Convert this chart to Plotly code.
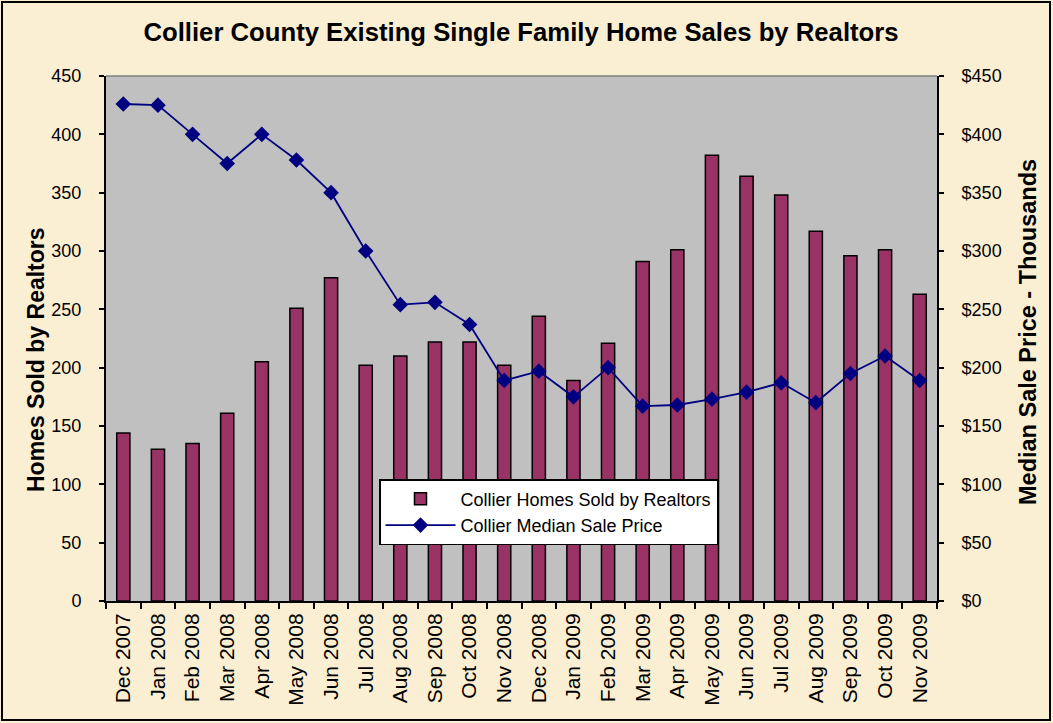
import plotly.graph_objects as go

months = ["Dec 2007", "Jan 2008", "Feb 2008", "Mar 2008", "Apr 2008", "May 2008", "Jun 2008",
          "Jul 2008", "Aug 2008", "Sep 2008", "Oct 2008", "Nov 2008", "Dec 2008", "Jan 2009",
          "Feb 2009", "Mar 2009", "Apr 2009", "May 2009", "Jun 2009", "Jul 2009", "Aug 2009",
          "Sep 2009", "Oct 2009", "Nov 2009"]
homes_sold = [144, 130, 135, 161, 205, 251, 277, 202, 210, 222, 222, 202, 244, 189,
              221, 291, 301, 382, 364, 348, 317, 296, 301, 263]
median_price = [426, 425, 400, 375, 400, 378, 350, 300, 254, 256, 237, 189, 197, 175,
                200, 167, 168, 173, 179, 187, 170, 195, 210, 189]
left_ticks = [0, 50, 100, 150, 200, 250, 300, 350, 400, 450]
right_tick_text = ["$" + str(v) for v in left_ticks]

W, H = 1053, 723
ML, MR, MT, MB = 106, 116, 76, 122
PW, PH = W - ML - MR, H - MT - MB
FONT = "Liberation Sans, Arial"

fig = go.Figure()
fig.add_trace(go.Bar(
    x=months, y=homes_sold, name="Collier Homes Sold by Realtors",
    marker=dict(color="#993366", line=dict(color="black", width=1.5)),
    width=0.38, yaxis="y"))
fig.add_trace(go.Scatter(
    x=months, y=median_price, name="Collier Median Sale Price",
    mode="lines+markers", line=dict(color="#000080", width=1.8),
    marker=dict(symbol="diamond", size=12, color="#000080"), yaxis="y2"))

axis_font = dict(family=FONT, size=18, color="black")
fig.update_layout(
    width=W, height=H,
    margin=dict(l=ML, r=MR, t=MT, b=MB, pad=0),
    paper_bgcolor="#FBEFD3",
    plot_bgcolor="#C0C0C0",
    title=dict(text="<b>Collier County Existing Single Family Home Sales by Realtors</b>",
               x=521 / W, xanchor="center", y=1 - 32 / H, yanchor="middle",
               font=dict(family=FONT, size=25.7, color="black")),
    showlegend=True,
    legend=dict(x=(379 - ML) / PW, y=(601 - 479) / PH, xanchor="left", yanchor="top",
                bgcolor="white", bordercolor="black", borderwidth=1.5,
                font=dict(family=FONT, size=18, color="black"),
                tracegroupgap=0, itemwidth=70),
    xaxis=dict(type="category", range=[-0.5, len(months) - 0.5], tickangle=-90,
               tickfont=dict(family=FONT, size=21, color="black"),
               showline=True, linecolor="black", linewidth=2, ticks="outside", ticklen=6,
               tickcolor="black", tickwidth=2, tickson="boundaries", showgrid=False,
               ticklabelstandoff=2),
    yaxis=dict(range=[0, 450], tickvals=left_ticks, tickfont=axis_font,
               showline=True, linecolor="black", linewidth=2, ticks="outside", ticklen=5,
               tickcolor="black", tickwidth=2, showgrid=False, zeroline=False,
               ticklabelstandoff=14),
    yaxis2=dict(range=[0, 450], tickvals=left_ticks, ticktext=right_tick_text, tickfont=axis_font,
                overlaying="y", side="right",
                showline=True, linecolor="black", linewidth=2, ticks="outside", ticklen=5,
                tickcolor="black", tickwidth=2, showgrid=False, zeroline=False,
                ticklabelstandoff=14),
)

# axis titles placed as annotations to match the original positions
fig.add_annotation(text="<b>Homes Sold by Realtors</b>", textangle=-90,
                   xref="paper", yref="paper", x=(36 - ML) / PW, y=(601 - 360) / PH,
                   xanchor="center", yanchor="middle", showarrow=False,
                   font=dict(family=FONT, size=23, color="black"))
fig.add_annotation(text="<b>Median Sale Price - Thousands</b>", textangle=-90,
                   xref="paper", yref="paper", x=(1028 - ML) / PW, y=(601 - 332) / PH,
                   xanchor="center", yanchor="middle", showarrow=False,
                   font=dict(family=FONT, size=23.5, color="black"))

# outer border of the chart area
fig.add_shape(type="rect", xref="paper", yref="paper",
              x0=-(ML - 2) / PW, x1=1 + (MR - 3) / PW, y0=-(MB - 3) / PH, y1=1 + (MT - 2) / PH,
              line=dict(color="black", width=2), fillcolor="rgba(0,0,0,0)", layer="below")
# top border of plot area
fig.add_shape(type="line", xref="paper", yref="paper", x0=0, x1=1, y0=1, y1=1,
              line=dict(color="#808080", width=1.5))

fig.write_html("out.html", config={"displayModeBar": False},
               post_script="document.body.style.margin='0px';document.body.style.background='#FBEFD3';")
